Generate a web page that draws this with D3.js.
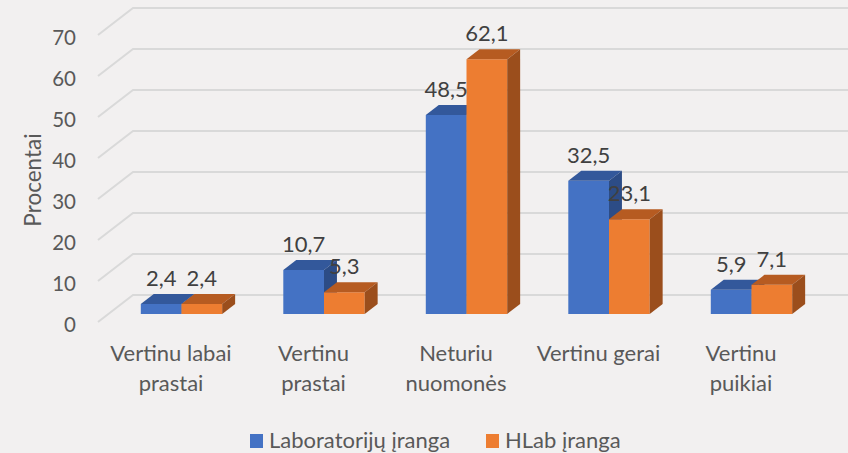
<!DOCTYPE html>
<html>
<head>
<meta charset="utf-8">
<script src="https://cdn.jsdelivr.net/npm/d3@7"></script>
<style>
  html, body { margin: 0; padding: 0; background: #F2F0F0; }
  svg { display: block; }
  text { font-family: Lato, "Open Sans", sans-serif; }
</style>
</head>
<body>
<svg id="chart" width="848" height="453"></svg>
<script>
// ---- data ----
const categories = ["Vertinu labai\nprastai", "Vertinu\nprastai", "Neturiu\nnuomonės", "Vertinu gerai", "Vertinu\npuikiai"];
const seriesNames = ["Laboratorijų įranga", "HLab įranga"];
const laboratorijuIranga = [2.4, 10.7, 48.5, 32.5, 5.9];
const hlabIranga = [2.4, 5.3, 62.1, 23.1, 7.1];
const yTicks = [0, 10, 20, 30, 40, 50, 60, 70];
const seriesValues = [laboratorijuIranga, hlabIranga];

// ---- styles ----
const colors = [
  { front: "#4472C4", top: "#33589B", side: "#2C4C86" },
  { front: "#ED7D31", top: "#B65B21", side: "#9B4E1C" }
];
const textColor = "#595959";
const labelColor = "#404040";
const gridColor = "#D9D9D9";

const svg = d3.select("#chart");

// ---- geometry ----
const depthDX = 35, depthDY = -27;          // full floor depth projection
const barT0 = 0.3, barT1 = 0.67;            // bar position within depth
const y = d3.scaleLinear().domain([0, 70]).range([322, 35]); // front plane
const x = d3.scalePoint().domain(categories).range([171, 741]);
const xs = d3.scaleBand().domain(seriesNames).range([-40.7, 40.7]);

// ---- gridlines (side wall diagonal + back wall) ----
const grid = svg.append("g");
yTicks.forEach(v => {
  const y0 = y(v);
  grid.append("path")
    .attr("d", `M98,${y0} L${98 + depthDX},${y0 + depthDY} L848,${y0 + depthDY}`)
    .attr("fill", "none").attr("stroke", gridColor).attr("stroke-width", 2);
});

// ---- y axis tick labels ----
svg.append("g").selectAll("text").data(yTicks).join("text")
  .attr("x", 76).attr("y", d => y(d) + 2)
  .attr("text-anchor", "end").attr("dominant-baseline", "central")
  .attr("fill", textColor).attr("font-size", 20.5)
  .text(d => d);

// ---- y axis title ----
svg.append("text")
  .attr("transform", "translate(32,180) rotate(-90)")
  .attr("text-anchor", "middle").attr("dominant-baseline", "central")
  .attr("fill", textColor).attr("font-size", 22.5)
  .text("Procentai");

// ---- bars ----
const bdx0 = barT0 * depthDX, bdy0 = barT0 * depthDY;
const bdx = (barT1 - barT0) * depthDX, bdy = (barT1 - barT0) * depthDY;
const bars = svg.append("g");
seriesNames.forEach((s, si) => {
  const g = bars.append("g");
  categories.forEach((c, ci) => {
    const v = seriesValues[si][ci];
    const xl = x(c) + bdx0 + xs(s);
    const xr = xl + xs.bandwidth();
    const yb = y(0) + bdy0;
    const yt = y(v) + bdy0;
    g.append("path").attr("d", `M${xl},${yb}L${xr},${yb}L${xr},${yt}L${xl},${yt}Z`)
      .attr("fill", colors[si].front);
    g.append("path").attr("d", `M${xl},${yt}L${xr},${yt}L${xr + bdx},${yt + bdy}L${xl + bdx},${yt + bdy}Z`)
      .attr("fill", colors[si].top);
    g.append("path").attr("d", `M${xr},${yb}L${xr + bdx},${yb + bdy}L${xr + bdx},${yt + bdy}L${xr},${yt}Z`)
      .attr("fill", colors[si].side);
  });
});

// ---- data labels ----
const labels = svg.append("g");
seriesNames.forEach((s, si) => {
  categories.forEach((c, ci) => {
    const v = seriesValues[si][ci];
    labels.append("text")
      .attr("x", x(c) + bdx0 + xs(s) + xs.bandwidth() / 2)
      .attr("y", y(v) + bdy0 - 18)
      .attr("text-anchor", "middle")
      .attr("fill", labelColor).attr("font-size", 22)
      .text(String(v).replace(".", ","));
  });
});

// ---- category labels ----
const cat = svg.append("g");
categories.forEach(c => {
  const t = cat.append("text").attr("text-anchor", "middle")
    .attr("fill", textColor).attr("font-size", 22);
  c.split("\n").forEach((line, i) => {
    t.append("tspan").attr("x", x(c)).attr("y", 361 + i * 29.5).text(line);
  });
});

// ---- legend ----
const legendPos = [250, 486];
const legend = svg.append("g");
seriesNames.forEach((s, si) => {
  legend.append("rect").attr("x", legendPos[si]).attr("y", 434)
    .attr("width", 13).attr("height", 14).attr("fill", colors[si].front);
  legend.append("text").attr("x", legendPos[si] + 19).attr("y", 448)
    .attr("fill", textColor).attr("font-size", 22).text(s);
});
</script>
</body>
</html>
